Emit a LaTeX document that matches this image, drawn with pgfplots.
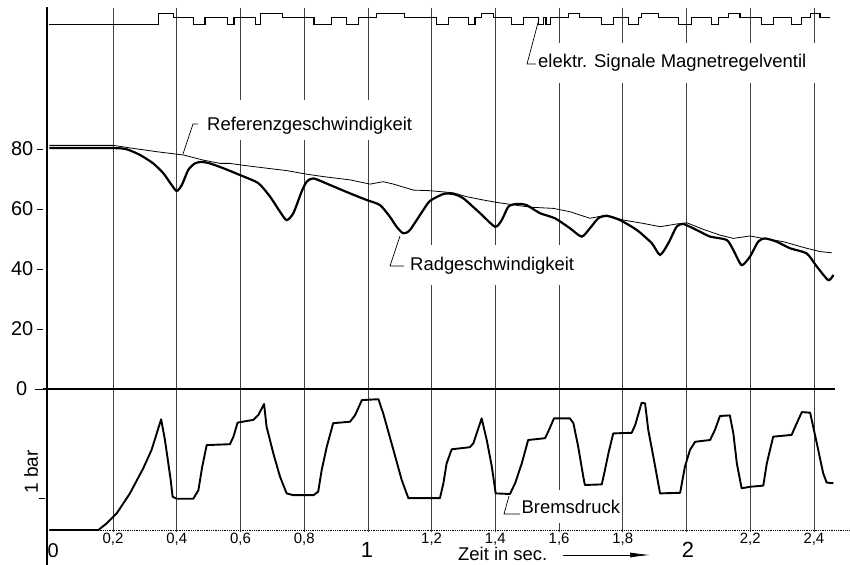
\documentclass[border=0pt]{standalone}
\usepackage{fontspec}
\setmainfont{Liberation Sans}
\usepackage{pgfplots}
\pgfplotsset{compat=1.18}
\usetikzlibrary{arrows.meta}

\newcommand{\lbl}{\fontsize{18.5}{22}\selectfont}
\newcommand{\ytk}{\fontsize{20}{24}\selectfont}
\newcommand{\xtk}{\fontsize{15}{18}\selectfont}
\newcommand{\xbig}{\fontsize{22}{26}\selectfont}

\begin{document}
\begin{tikzpicture}
\begin{axis}[
  scale only axis, width=850bp, height=565bp,
  xmin=-0.15474, xmax=2.51318, ymin=-58.667, ymax=129.667,
  axis lines=none, xtick=\empty, ytick=\empty, clip=false,
]
\coordinate (bl) at (rel axis cs:0,0);
\coordinate (tr) at (rel axis cs:1,1);
\coordinate (tl) at (rel axis cs:0,1);

% vertical grid lines (with gaps round the labels)
\tikzset{gridc/.style={black!75, line width=0.7bp}}
\draw[gridc] (axis cs:0.2,127) -- (axis cs:0.2,-47.7);
\draw[gridc] (axis cs:0.4,127) -- (axis cs:0.4,-47.7);
\draw[gridc] (axis cs:0.6,127) -- (axis cs:0.6,96.3) (axis cs:0.6,83) -- (axis cs:0.6,-47.7);
\draw[gridc] (axis cs:0.8,127) -- (axis cs:0.8,96.3) (axis cs:0.8,83) -- (axis cs:0.8,-47.7);
\draw[gridc] (axis cs:1.0,127) -- (axis cs:1.0,96.3) (axis cs:1.0,83) -- (axis cs:1.0,-47.7);
\draw[gridc] (axis cs:1.2,127) -- (axis cs:1.2,48) (axis cs:1.2,34.7) -- (axis cs:1.2,-47.7);
\draw[gridc] (axis cs:1.4,127) -- (axis cs:1.4,48) (axis cs:1.4,34.7) -- (axis cs:1.4,-47.7);
\draw[gridc] (axis cs:1.6,127) -- (axis cs:1.6,115.3) (axis cs:1.6,102) -- (axis cs:1.6,48)
             (axis cs:1.6,34.7) -- (axis cs:1.6,-33.7) (axis cs:1.6,-44.7) -- (axis cs:1.6,-47.7);
\draw[gridc] (axis cs:1.8,127) -- (axis cs:1.8,115.3) (axis cs:1.8,102) -- (axis cs:1.8,-47.7);
\draw[gridc] (axis cs:2.0,127) -- (axis cs:2.0,115.3) (axis cs:2.0,102) -- (axis cs:2.0,-47.7);
\draw[gridc] (axis cs:2.2,127) -- (axis cs:2.2,115.3) (axis cs:2.2,102) -- (axis cs:2.2,-47.7);
\draw[gridc] (axis cs:2.4,127) -- (axis cs:2.4,115.3) (axis cs:2.4,102) -- (axis cs:2.4,-47.7);

% axis line, zero line, pressure base line
\draw[line width=1.5bp] (axis cs:-0.008,127.3) -- (axis cs:-0.008,-58.7);
\draw[line width=1.1bp] (axis cs:-0.02,0) -- (axis cs:2.466,0);
\draw[densely dotted, line width=0.8bp] (axis cs:0,-47) -- (axis cs:2.5132,-47);

% electric signals of the control valve
\addplot[const plot, line width=1.2bp, black] coordinates {
(0,121.5) (0.342,125.2) (0.389,123.8) (0.452,121.5) (0.489,123.8) (0.559,121.5)
(0.580,123.8) (0.646,121.5) (0.664,125.2) (0.733,123.8) (0.831,121.5) (0.886,123.8)
(0.933,121.5) (0.970,123.8) (1.028,125.2) (1.116,123.8) (1.216,121.5) (1.252,123.8)
(1.315,121.5) (1.336,123.8) (1.357,125.2) (1.394,123.8) (1.451,121.5) (1.488,123.8)
(1.535,121.5) (1.551,123.8) (1.559,121.5) (1.572,123.8) (1.629,125.2) (1.664,123.8)
(1.734,121.5) (1.770,123.8) (1.817,121.5) (1.849,123.8) (1.859,125.2) (1.911,123.8)
(1.974,121.5) (2.016,123.8) (2.079,121.5) (2.100,123.8) (2.131,125.2) (2.168,123.8)
(2.236,121.5) (2.272,123.8) (2.330,121.5) (2.362,123.8) (2.388,125.2) (2.419,123.8)
(2.450,123.8)};

% reference speed
\addplot[line width=0.8bp, black] coordinates {
(0,81.2) (0.201,81.2) (0.264,80.2) (0.337,79.1) (0.421,78.0) (0.483,76.3) (0.536,75.2)
(0.567,75.2) (0.599,74.7) (0.682,73.6) (0.745,72.8) (0.808,71.6) (0.860,70.8) (0.944,69.7)
(1.007,68.3) (1.048,69.1) (1.080,68.3) (1.143,66.3) (1.195,66.1) (1.268,65.4) (1.310,64.1)
(1.362,63.0) (1.404,62.2) (1.456,61.4) (1.509,60.6) (1.582,60.2) (1.634,59.1) (1.697,56.9)
(1.750,58.0) (1.802,56.3) (1.864,55.2) (1.917,54.1) (1.969,55.0) (2.001,55.4) (2.053,53.2)
(2.105,51.3) (2.147,50.2) (2.199,51.0) (2.241,50.2) (2.304,49.1) (2.367,47.2) (2.419,45.8)
(2.456,45.4)};

% wheel speed
\addplot[line width=2.2bp, black, smooth, tension=0.4] coordinates {
(0,80.3) (0.201,80.3) (0.243,79.9) (0.285,78.0) (0.326,75.2) (0.358,71.9) (0.384,68.0)
(0.400,66.0) (0.416,68.0) (0.436,73.0) (0.457,75.2) (0.478,75.7) (0.504,75.2) (0.546,73.6)
(0.599,71.3) (0.656,68.6) (0.693,64.1) (0.724,59.1) (0.745,56.3) (0.766,58.6) (0.792,65.8)
(0.808,69.1) (0.829,70.2) (0.881,68.0) (0.944,65.2) (0.996,63.0) (1.038,61.3) (1.069,57.4)
(1.090,54.1) (1.111,51.9) (1.132,53.0) (1.174,59.7) (1.195,62.7) (1.237,65.0) (1.268,65.0)
(1.299,63.6) (1.352,58.6) (1.399,54.1) (1.420,56.3) (1.441,60.8) (1.467,61.7) (1.498,61.3)
(1.540,58.6) (1.587,56.9) (1.634,53.6) (1.671,50.8) (1.697,53.6) (1.723,56.9) (1.750,57.7)
(1.791,56.3) (1.844,53.0) (1.891,48.6) (1.917,44.7) (1.943,48.6) (1.969,54.1) (1.990,55.0)
(2.032,53.0) (2.074,50.8) (2.126,49.7) (2.147,46.3) (2.173,41.3) (2.199,44.1) (2.225,49.1)
(2.246,50.2) (2.283,49.1) (2.325,46.9) (2.377,45.2) (2.409,40.8) (2.445,36.3) (2.461,38.0)};

% brake pressure
\addplot[line width=1.9bp, black, line join=round] coordinates {
(0,-47.0) (0.154,-47.0) (0.180,-44.8) (0.212,-41.4) (0.253,-34.8) (0.295,-26.4) (0.321,-20.3)
(0.351,-10.1) (0.363,-17.0) (0.381,-30.3) (0.387,-35.9) (0.400,-36.6) (0.452,-36.6)
(0.468,-33.7) (0.480,-25.9) (0.494,-18.7) (0.567,-18.4) (0.578,-15.9) (0.591,-11.2)
(0.640,-10.3) (0.656,-8.7) (0.674,-5.0) (0.682,-12.6) (0.703,-21.4) (0.724,-29.2)
(0.745,-34.8) (0.766,-35.4) (0.829,-35.4) (0.844,-34.2) (0.855,-27.0) (0.871,-19.2)
(0.891,-11.4) (0.944,-10.9) (0.960,-8.7) (0.981,-3.7) (1.033,-3.4) (1.048,-8.1)
(1.080,-20.3) (1.106,-30.3) (1.127,-36.4) (1.226,-36.4) (1.237,-31.4) (1.247,-24.8)
(1.263,-20.1) (1.320,-19.4) (1.331,-18.1) (1.357,-9.8) (1.373,-17.0) (1.389,-25.9)
(1.401,-34.8) (1.446,-35.0) (1.462,-31.4) (1.483,-24.8) (1.503,-17.0) (1.556,-16.4)
(1.566,-14.2) (1.584,-9.8) (1.634,-9.8) (1.645,-11.4) (1.660,-19.2) (1.676,-29.2)
(1.681,-32.0) (1.734,-31.8) (1.744,-27.0) (1.755,-21.4) (1.770,-14.8) (1.828,-14.6)
(1.839,-12.0) (1.859,-4.6) (1.870,-4.8) (1.880,-13.7) (1.896,-22.6) (1.917,-34.8)
(1.980,-34.6) (1.995,-25.9) (2.011,-20.3) (2.027,-17.6) (2.074,-17.0) (2.089,-13.7)
(2.105,-9.0) (2.136,-8.8) (2.147,-14.8) (2.158,-24.8) (2.173,-33.1) (2.199,-32.6)
(2.241,-32.2) (2.252,-24.8) (2.272,-15.9) (2.330,-15.3) (2.346,-11.4) (2.362,-7.7)
(2.388,-7.9) (2.409,-18.1) (2.429,-28.1) (2.440,-31.2) (2.461,-31.4)};
\end{axis}

% texts and leaders, in picture pixels from the top left corner
\begin{scope}[shift={(tl)}, x=1bp, y=-1bp]
  % y ticks
  \foreach \py/\lab in {149/80, 209/60, 269/40, 329/20} {
    \node[anchor=east, inner sep=0pt, font=\ytk] at (33.5,\py) {\lab};
    \draw[line width=0.8bp] (37,\py) -- (43,\py);
  }
  \node[anchor=east, inner sep=0pt, font=\ytk] at (27.5,389) {0};
  \draw[line width=0.8bp] (35,389) -- (43,389);
  \draw[line width=0.8bp] (39,498) -- (45,498);
  \node[rotate=90, inner sep=0pt, font=\fontsize{19}{22}\selectfont] at (31,472) {1 bar};
  % x ticks
  \foreach \px/\lab in {113.0/{0,2}, 176.7/{0,4}, 240.5/{0,6}, 304.2/{0,8}, 431.6/{1,2},
                        495.3/{1,4}, 559.1/{1,6}, 622.8/{1,8}, 750.2/{2,2}, 813.9/{2,4}} {
    \node[anchor=base, inner sep=0pt, font=\xtk] at (\px,544) {\lab};
  }
  \node[anchor=base, inner sep=0pt, font=\xbig] at (367,558) {1};
  \node[anchor=base, inner sep=0pt, font=\xbig] at (688,558) {2};
  \node[anchor=base west, inner sep=0pt, font=\fontsize{20}{24}\selectfont] at (47.5,558) {0};
  % labels
  \node[anchor=base west, inner sep=0pt, font=\lbl] at (207,130.5) {Referenzgeschwindigkeit};
  \draw[line width=0.7bp] (198,124) -- (193,124) -- (183,154);
  \node[anchor=base west, inner sep=0pt, font=\lbl] at (538,68) {elektr. Signale Magnetregelventil};
  \draw[line width=0.7bp] (536,64) -- (527,64) -- (539,19);
  \node[anchor=base west, inner sep=0pt, font=\lbl] at (410,270.5) {Radgeschwindigkeit};
  \draw[line width=0.7bp] (404,266) -- (390,266) -- (400,236);
  \node[anchor=base west, inner sep=0pt, font=\lbl] at (521.5,513.2) {Bremsdruck};
  \draw[line width=0.7bp] (520,514) -- (504,514) -- (509,496);
  \node[anchor=base west, inner sep=0pt, font=\lbl] at (458,560.5) {Zeit in sec.};
  \draw[line width=0.7bp, -{Latex[length=20bp,width=5bp]}] (563,555) -- (650,555);
\end{scope}
\pgfresetboundingbox
\useasboundingbox (bl) rectangle (tr);
\end{tikzpicture}
\end{document}
